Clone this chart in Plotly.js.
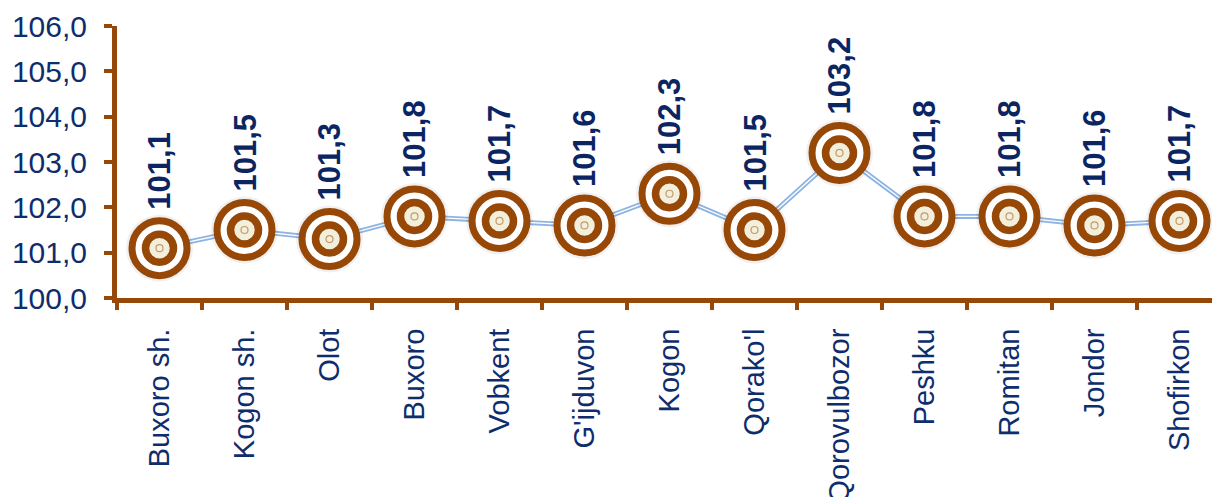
<!DOCTYPE html>
<html><head><meta charset="utf-8">
<script src="https://cdn.plot.ly/plotly-3.0.1.min.js"></script>
<style>html,body{margin:0;padding:0;overflow:hidden;background:#fff;}#chart{width:1222px;height:497px;}</style>
</head><body><div id="chart"></div>
<script>
const categories = ["Buxoro sh.","Kogon sh.","Olot","Buxoro","Vobkent","G'ijduvon","Kogon","Qorako'l","Qorovulbozor","Peshku","Romitan","Jondor","Shofirkon"];
const values = [101.1,101.5,101.3,101.8,101.7,101.6,102.3,101.5,103.2,101.8,101.8,101.6,101.7];
const yTicks = [100,101,102,103,104,105,106];

const brown = '#974706';
const navy = '#0E2D6D';
const fontFam = 'Arial, "Liberation Sans", sans-serif';
const fmt = v => v.toFixed(1).replace('.', ',');

const traces = [
  {x: categories, y: values, mode: 'lines', line: {color: '#8DB4E2', width: 5}, hoverinfo: 'skip'},
  {x: categories, y: values, mode: 'lines', line: {color: '#ffffff', width: 1.3}, hoverinfo: 'skip'},
  {x: categories, y: values, mode: 'markers', marker: {size: 67, color: 'rgba(0,0,0,0.06)', line: {width: 0}}, hoverinfo: 'skip'},
  {x: categories, y: values, mode: 'markers', marker: {size: 55, color: '#ffffff', line: {color: brown, width: 7}}, hoverinfo: 'skip'},
  {x: categories, y: values, mode: 'markers', marker: {size: 28, color: '#F2F0DC', line: {color: brown, width: 7.5}}, hoverinfo: 'skip'},
  {x: categories, y: values, mode: 'markers', marker: {size: 7, symbol: 'circle-open', color: '#C89A6A', line: {color: '#C89A6A', width: 1.2}}, hoverinfo: 'skip'}
];

const annotations = categories.map((c, i) => ({
  x: c, y: values[i], xref: 'x', yref: 'y', text: '<b>' + fmt(values[i]) + '</b>',
  showarrow: false, textangle: -90, yanchor: 'bottom', xanchor: 'center', yshift: 36,
  font: {family: fontFam, size: 31, color: '#0B2563'}
}));

const layout = {
  width: 1222, height: 497,
  margin: {l: 117, r: 0, t: 26, b: 199, pad: 0},
  paper_bgcolor: '#fff', plot_bgcolor: '#fff',
  showlegend: false,
  separators: ', ',
  xaxis: {
    type: 'category', range: [-0.5, 12.5], showgrid: false, zeroline: false,
    showline: true, linecolor: brown, linewidth: 5,
    ticks: 'outside', tickson: 'boundaries', ticklen: 7, tickwidth: 4, tickcolor: brown,
    tickangle: -90, ticklabelstandoff: 14,
    tickfont: {family: fontFam, size: 29, color: navy}
  },
  yaxis: {
    range: [100, 106], tickvals: yTicks, ticktext: yTicks.map(fmt),
    showgrid: false, zeroline: false,
    showline: true, linecolor: brown, linewidth: 5,
    ticks: 'outside', ticklen: 8, tickwidth: 4, tickcolor: brown,
    ticklabelstandoff: 11,
    tickfont: {family: fontFam, size: 30, color: navy}
  },
  annotations: annotations
};

Plotly.newPlot('chart', traces, layout, {staticPlot: true, displayModeBar: false});
</script></body></html>
